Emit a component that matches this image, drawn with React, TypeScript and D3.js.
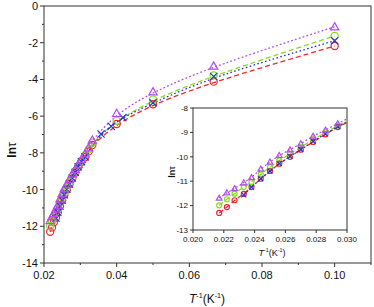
import * as d3 from "d3";

// 1/T values (K^-1) shared by the red, green and purple series
const invT = [
  0.1, 0.0667, 0.05, 0.04, 0.0333, 0.0323, 0.0313, 0.0303, 0.0294, 0.0286, 0.0278,
  0.027, 0.0263, 0.0256, 0.025, 0.0244, 0.0238, 0.0233, 0.0227, 0.0222, 0.0217,
];
const redLn = [
  -2.18, -4.12, -5.35, -6.43, -7.57, -7.92, -8.24, -8.5, -8.78, -9.08, -9.39,
  -9.71, -10.0, -10.28, -10.58, -10.9, -11.24, -11.52, -11.78, -12.06, -12.3,
];
const greenLn = [
  -1.63, -3.78, -5.1, -6.25, -7.45, -7.82, -8.15, -8.45, -8.72, -9.0, -9.3,
  -9.6, -9.88, -10.15, -10.42, -10.72, -11.03, -11.24, -11.51, -11.74, -11.99,
];
const purpleLn = [
  -1.13, -3.27, -4.67, -5.85, -7.3, -7.72, -8.05, -8.35, -8.64, -8.9, -9.15,
  -9.46, -9.71, -9.94, -10.21, -10.5, -10.85, -11.06, -11.3, -11.47, -11.69,
];
// blue series was measured at its own temperatures
const blueInvT = [
  0.1, 0.0667, 0.05, 0.0417, 0.0385, 0.0357, 0.0313, 0.0303, 0.0294, 0.0286, 0.0278,
  0.027, 0.0263, 0.0256, 0.025, 0.0244, 0.0238, 0.0233,
];
const blueLn = [
  -1.89, -3.84, -5.27, -6.08, -6.55, -6.97, -8.22, -8.48, -8.76, -9.06, -9.37,
  -9.7, -9.98, -10.28, -10.58, -10.9, -11.24, -11.56,
];

const mainXTicks = [0.02, 0.04, 0.06, 0.08, 0.1];
const mainXMinor = [0.03, 0.05, 0.07, 0.09, 0.11];
const mainYTicks = [0, -2, -4, -6, -8, -10, -12, -14];
const mainYMinor = [-1, -3, -5, -7, -9, -11, -13];
const insetXTicks = [0.02, 0.022, 0.024, 0.026, 0.028, 0.03];
const insetYTicks = [-8, -9, -10, -11, -12, -13];

type Pt = [number, number];
type Series = { pts: Pt[]; color: string; dash: string; marker: "circle" | "tri" | "x" };

const zip = (xs: number[], ys: number[]): Pt[] => xs.map((x, i) => [x, ys[i]] as Pt);

const series: Series[] = [
  { pts: zip(invT, redLn), color: "#f0282c", dash: "5,3", marker: "circle" },
  { pts: zip(invT, greenLn), color: "#86dc1e", dash: "5,3", marker: "circle" },
  { pts: zip(blueInvT, blueLn), color: "#2434d0", dash: "1.6,2.4", marker: "x" },
  { pts: zip(invT, purpleLn), color: "#b44cf0", dash: "1.8,2.2", marker: "tri" },
];

const FONT = "Arial, 'Liberation Sans', sans-serif";
const AXIS = "#333";

function Marker({ kind, x, y, r, color }: { kind: string; x: number; y: number; r: number; color: string }) {
  if (kind === "circle")
    return <circle cx={x} cy={y} r={r} fill="none" stroke={color} strokeWidth={1.2} />;
  if (kind === "tri") {
    const h = r * 1.15;
    return (
      <path
        d={`M${x},${y - h}L${x + h},${y + h * 0.75}L${x - h},${y + h * 0.75}Z`}
        fill="none"
        stroke={color}
        strokeWidth={1.2}
      />
    );
  }
  return (
    <path
      d={`M${x - r},${y - r}L${x + r},${y + r}M${x - r},${y + r}L${x + r},${y - r}`}
      stroke={color}
      strokeWidth={1.2}
    />
  );
}

function Plot({
  x, y, xTicks, xMinor, yTicks, yMinor, fmtX, fontSize, markerR, clipId, tick,
}: {
  x: d3.ScaleLinear<number, number>;
  y: d3.ScaleLinear<number, number>;
  xTicks: number[];
  xMinor: number[];
  yTicks: number[];
  yMinor: number[];
  fmtX: (v: number) => string;
  fontSize: number;
  markerR: number;
  clipId: string;
  tick: number;
}) {
  const [x0, x1] = x.range();
  const [y1, y0] = y.range();
  const line = d3
    .line<Pt>()
    .x((d) => x(d[0]))
    .y((d) => y(d[1]))
    .curve(d3.curveBasis);
  const [dx0, dx1] = x.domain();
  const [dy0, dy1] = y.domain();
  const inside = (p: Pt) => p[0] >= dx0 - 1e-9 && p[0] <= dx1 + 1e-9 && p[1] >= dy0 && p[1] <= dy1;
  return (
    <g>
      <defs>
        <clipPath id={clipId}>
          <rect x={x0} y={y0} width={x1 - x0} height={y1 - y0} />
        </clipPath>
      </defs>
      <rect x={x0} y={y0} width={x1 - x0} height={y1 - y0} fill="#fff" stroke={AXIS} strokeWidth={1} />
      <g clipPath={`url(#${clipId})`}>
        {series.map((s, i) => (
          <path
            key={i}
            d={line([...s.pts].sort((a, b) => a[0] - b[0])) ?? ""}
            fill="none"
            stroke={s.color}
            strokeWidth={1.3}
            strokeDasharray={s.dash}
          />
        ))}
      </g>
      {series.map((s, i) =>
        s.pts.filter(inside).map((p, j) => (
          <Marker key={`${i}-${j}`} kind={s.marker} x={x(p[0])} y={y(p[1])} r={markerR} color={s.color} />
        ))
      )}
      {xTicks.map((t) => (
        <g key={`xt${t}`}>
          <line x1={x(t)} x2={x(t)} y1={y1} y2={y1 + tick} stroke={AXIS} />
          <text x={x(t)} y={y1 + tick + fontSize + 1} textAnchor="middle" fontSize={fontSize} fontFamily={FONT} fill="#111">
            {fmtX(t)}
          </text>
        </g>
      ))}
      {xMinor.map((t) => (
        <line key={`xm${t}`} x1={x(t)} x2={x(t)} y1={y1} y2={y1 + tick / 2} stroke={AXIS} />
      ))}
      {yTicks.map((t) => (
        <g key={`yt${t}`}>
          <line x1={x0 - tick} x2={x0} y1={y(t)} y2={y(t)} stroke={AXIS} />
          <text x={x0 - tick - 2} y={y(t) + fontSize * 0.36} textAnchor="end" fontSize={fontSize} fontFamily={FONT} fill="#111">
            {t}
          </text>
        </g>
      ))}
      {yMinor.map((t) => (
        <line key={`ym${t}`} x1={x0 - tick / 2} x2={x0} y1={y(t)} y2={y(t)} stroke={AXIS} />
      ))}
    </g>
  );
}

function XTitle({ x, y, size }: { x: number; y: number; size: number }) {
  return (
    <text x={x} y={y} textAnchor="middle" fontSize={size} fontFamily={FONT} fill="#111">
      <tspan fontStyle="italic">T</tspan>
      <tspan dy={-size * 0.4} fontSize={size * 0.6}>-1</tspan>
      <tspan dy={size * 0.4}>(K</tspan>
      <tspan dy={-size * 0.4} fontSize={size * 0.6}>-1</tspan>
      <tspan dy={size * 0.4}>)</tspan>
    </text>
  );
}

function YTitle({ x, y, size }: { x: number; y: number; size: number }) {
  return (
    <text
      transform={`translate(${x},${y}) rotate(-90)`}
      textAnchor="middle"
      fontSize={size}
      fontWeight="bold"
      fontFamily={FONT}
      fill="#111"
    >
      ln
      <tspan fontWeight="normal">τ</tspan>
    </text>
  );
}

export default function App() {
  const W = 374;
  const H = 307;
  const mx = d3.scaleLinear().domain([0.02, 0.11]).range([44, 371]);
  const my = d3.scaleLinear().domain([-14, 0]).range([263, 6]);
  const ix = d3.scaleLinear().domain([0.02, 0.03]).range([193, 347]);
  const iy = d3.scaleLinear().domain([-13, -8]).range([230, 108]);

  return (
    <svg width={W} height={H} style={{ position: "absolute", left: 0, top: 0, background: "#fff" }}>
      <Plot
        x={mx}
        y={my}
        xTicks={mainXTicks}
        xMinor={mainXMinor}
        yTicks={mainYTicks}
        yMinor={mainYMinor}
        fmtX={(v) => (v === 0.1 ? "0.10" : d3.format(".2f")(v))}
        fontSize={11}
        markerR={3.6}
        clipId="mainClip"
        tick={4}
      />
      <XTitle x={207} y={303} size={12} />
      <YTitle x={16} y={150} size={12} />
      <Plot
        x={ix}
        y={iy}
        xTicks={insetXTicks}
        xMinor={[]}
        yTicks={insetYTicks}
        yMinor={[]}
        fmtX={(v) => d3.format(".3f")(v)}
        fontSize={8}
        markerR={2.5}
        clipId="insetClip"
        tick={3}
      />
      <XTitle x={272} y={256} size={9} />
      <YTitle x={175} y={172} size={9} />
    </svg>
  );
}
